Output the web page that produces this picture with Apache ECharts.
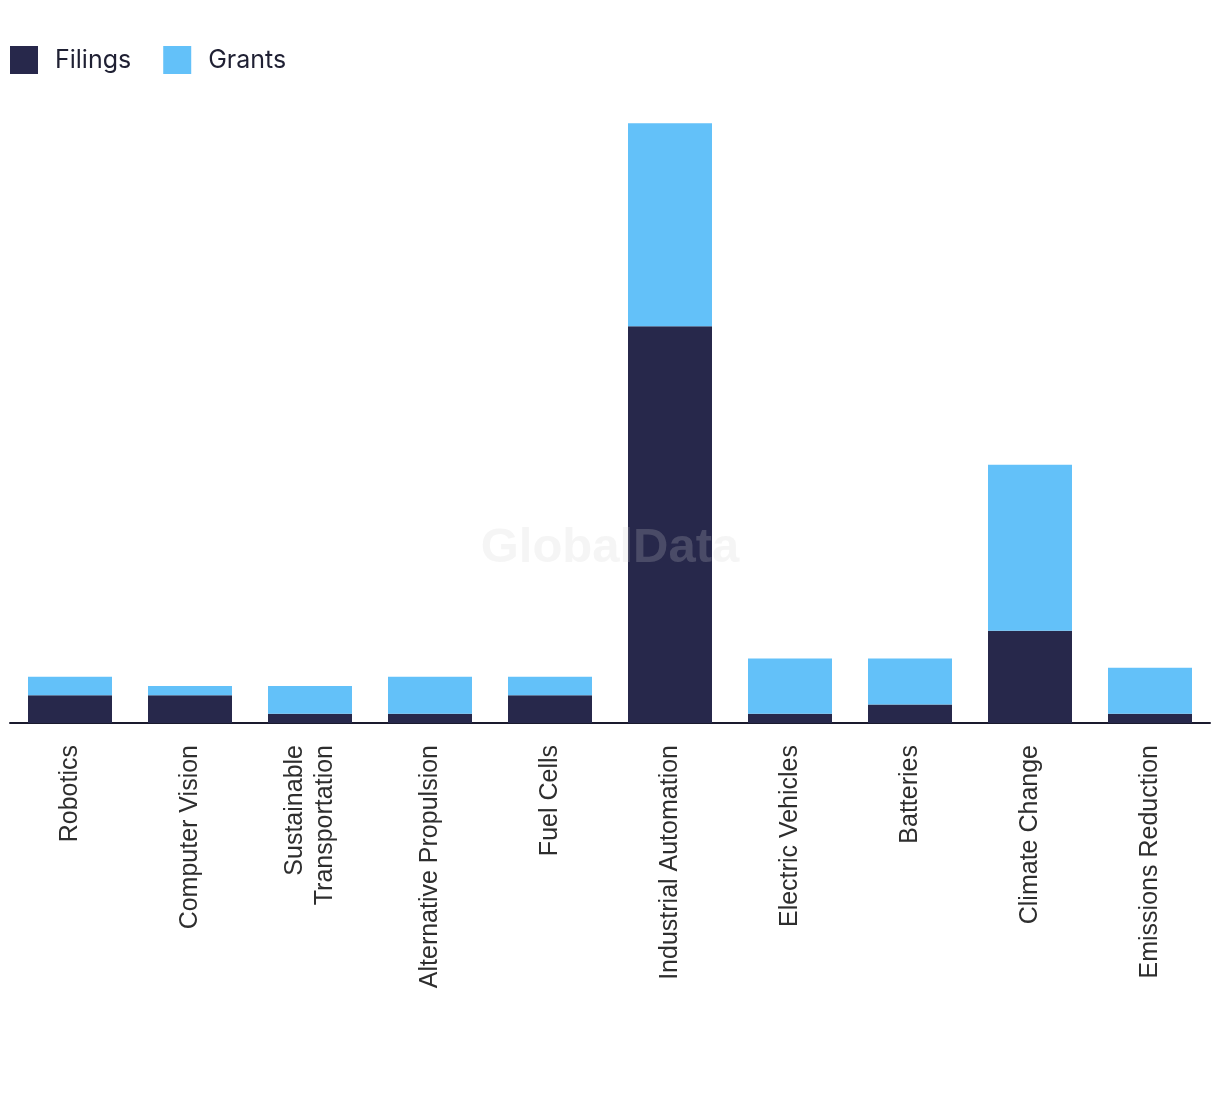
<!DOCTYPE html>
<html><head><meta charset="utf-8">
<script src="https://cdn.jsdelivr.net/npm/echarts@6/dist/echarts.min.js"></script>
<style>html,body{margin:0;padding:0;background:#fff}#c{width:1220px;height:1094px}</style>
</head><body><div id="c"></div>
<script>
const categories = ["Robotics","Computer Vision","Sustainable Transportation","Alternative Propulsion","Fuel Cells","Industrial Automation","Electric Vehicles","Batteries","Climate Change","Emissions Reduction"];
const filings = [3,3,1,1,3,43,1,2,10,1];
const grants = [2,1,3,4,2,22,6,5,18,5];

const chart = echarts.init(document.getElementById('c'));
chart.setOption({
  animation:false,
  legend:{left:10,top:46,padding:0,itemWidth:28,itemHeight:28,itemGap:32,icon:'rect',
    textStyle:{fontSize:25,color:'#1f2033',fontFamily:'Inter, "Noto Sans", sans-serif',padding:[0,0,0,12]},
    data:['Filings','Grants']},
  grid:{left:10,right:10,top:80,bottom:371,containLabel:false},
  xAxis:{type:'category',data:categories,
    axisLine:{lineStyle:{color:'#1a1a2e',width:2}},axisTick:{show:false},
    axisLabel:{rotate:90,margin:22,fontSize:25,color:'#2e2e2e',fontFamily:'"Liberation Sans", Arial, sans-serif',
      interval:0,lineHeight:30,
      formatter:v=>v.replace('Sustainable ','Sustainable\n')}},
  yAxis:{type:'value',min:0,max:69.7,show:false,splitLine:{show:false}},
  graphic:[{type:'text',left:'center',top:524,z:100,silent:true,
    style:{text:'GlobalData',fontSize:49,fontWeight:'bold',fontFamily:'"Liberation Sans", Arial, sans-serif',fill:'rgba(207,207,207,0.21)'}}],
  series:[
    {name:'Filings',type:'bar',stack:'t',data:filings,barWidth:'70%',itemStyle:{color:'#27284b'}},
    {name:'Grants',type:'bar',stack:'t',data:grants,barWidth:'70%',itemStyle:{color:'#63c1f9'}}
  ]
});
</script></body></html>
